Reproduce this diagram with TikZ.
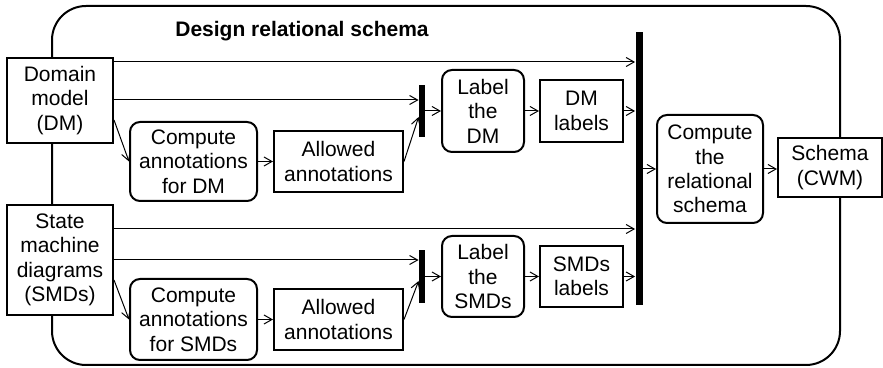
\documentclass[tikz,border=0pt]{standalone}
\usepackage{fontspec}
\setmainfont{Liberation Sans}
\usetikzlibrary{arrows.meta}
\begin{document}
\begin{tikzpicture}[x=0.5pt,y=-0.5pt,
        every node/.style={font=\fontsize{10.5}{12.2}\selectfont, align=center, inner sep=0pt},
        data/.style={draw, line width=1pt, fill=white},
        proc/.style={draw, line width=1pt, fill=white, rounded corners=5pt},
        bar/.style={fill=black, minimum width=3pt},
        flow/.style={-{Straight Barb[length=4pt,width=4.5pt]}, line width=0.5pt}]
        \useasboundingbox (0,0) rectangle (883,368);
        \draw [line width=1pt, rounded corners=17pt] (52,6) rectangle (840,365);
        \node (title) at (302,31) {\bfseries Design relational schema};
        % inputs
        \node [data, minimum width=53pt, minimum height=42.5pt] (dm) at (60,100.5) {Domain\\model\\(DM)};
        \node [data, minimum width=53pt, minimum height=55pt] (smd) at (60,260) {State\\machine\\diagrams\\(SMDs)};
        % upper branch
        \node [proc, minimum width=63.5pt, minimum height=39.5pt] (cadm) at (193.5,161.5) {Compute\\annotations\\for DM};
        \node [data, minimum width=64.5pt, minimum height=30.5pt] (aadm) at (338.5,161.5) {Allowed\\annotations};
        \node [bar, minimum height=26pt] (sbdm) at (422,111) {};
        \node [proc, minimum width=41pt, minimum height=41pt] (ldm) at (483,111) {Label\\the\\DM};
        \node [data, minimum width=41.5pt, minimum height=31pt] (dml) at (581.5,111) {DM\\labels};
        % lower branch
        \node [proc, minimum width=63.5pt, minimum height=40.5pt] (casmd) at (193.5,319.5) {Compute\\annotations\\for SMDs};
        \node [data, minimum width=64.5pt, minimum height=30.5pt] (aasmd) at (338.5,319.5) {Allowed\\annotations};
        \node [bar, minimum height=26.5pt] (sbsmd) at (422,276.5) {};
        \node [proc, minimum width=41pt, minimum height=40.5pt] (lsmd) at (483,276.5) {Label\\the\\SMDs};
        \node [data, minimum width=41.5pt, minimum height=30.5pt] (smdl) at (581.5,276.5) {SMDs\\labels};
        % join and output
        \node [bar, minimum width=3.5pt, minimum height=136.5pt] (bigbar) at (639,168.5) {};
        \node [proc, minimum width=53pt, minimum height=54pt] (crs) at (710,169) {Compute\\the\\relational\\schema};
        \node [data, minimum width=52pt, minimum height=29.5pt] (cwm) at (830,167.5) {Schema\\(CWM)};
        % connectors
        \draw [flow] (dm.east |- 0,62) -- (bigbar.west |- 0,62);
        \draw [flow] (dm.east |- 0,100) -- (sbdm.west |- 0,100);
        \draw [flow] (dm.east |- 0,120) -- (cadm.west);
        \draw [flow] (cadm.east) -- (aadm.west);
        \draw [flow] (aadm.east) -- (sbdm.west |- 0,117);
        \draw [flow] (sbdm.east) -- (ldm.west);
        \draw [flow] (ldm.east) -- (dml.west);
        \draw [flow] (dml.east) -- (bigbar.west |- dml.east);
        \draw [flow] (smd.east |- 0,229) -- (bigbar.west |- 0,229);
        \draw [flow] (smd.east |- 0,260) -- (sbsmd.west |- 0,260);
        \draw [flow] (smd.east |- 0,280) -- (casmd.west);
        \draw [flow] (casmd.east) -- (aasmd.west);
        \draw [flow] (aasmd.east) -- (sbsmd.west |- 0,281);
        \draw [flow] (sbsmd.east) -- (lsmd.west);
        \draw [flow] (lsmd.east) -- (smdl.west);
        \draw [flow] (smdl.east) -- (bigbar.west |- smdl.east);
        \draw [flow] (bigbar.east |- crs.west) -- (crs.west);
        \draw [flow] (crs.east) -- (cwm.west |- crs.east);
\end{tikzpicture}
\end{document}
